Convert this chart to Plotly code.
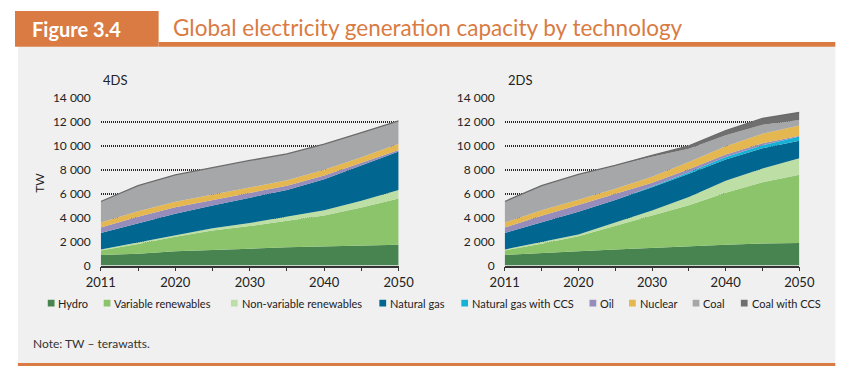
import plotly.graph_objects as go

W, H = 860, 373

years = ["2011", "2015", "2020", "2025", "2030", "2035", "2040", "2045", "2050"]
year_tick_text = ["2011", "", "2020", "", "2030", "", "2040", "", "2050"]
y_ticks = [0, 2000, 4000, 6000, 8000, 10000, 12000, 14000]

technologies = ["Hydro", "Variable renewables", "Non-variable renewables", "Natural gas",
                "Natural gas with CCS", "Oil", "Nuclear", "Coal", "Coal with CCS"]
tech_colors = ["#488450", "#8cc46b", "#bddfa6", "#016690", "#16b2d6",
               "#968dbb", "#e5b751", "#a6a7a9", "#6f6f70"]

# 4DS scenario (TW, stacked components)
hydro_4ds = [885, 990, 1200, 1280, 1400, 1520, 1600, 1650, 1730]
varren_4ds = [375, 800, 1200, 1650, 1900, 2210, 2590, 3200, 3870]
nonvarren_4ds = [80, 130, 130, 190, 250, 350, 430, 560, 720]
gas_4ds = [1380, 1630, 1790, 1890, 2100, 2240, 2590, 2930, 3200]
gasccs_4ds = [0, 0, 0, 0, 0, 0, 0, 0, 0]
oil_4ds = [450, 530, 560, 480, 390, 350, 320, 240, 130]
nuclear_4ds = [420, 450, 450, 430, 520, 450, 480, 480, 530]
coal_4ds = [1760, 2140, 2240, 2270, 2220, 2210, 2130, 2050, 1920]
coalccs_4ds = [0, 0, 0, 0, 0, 0, 0, 0, 0]

# 2DS scenario
hydro_2ds = [885, 1010, 1190, 1340, 1480, 1650, 1745, 1830, 1880]
varren_2ds = [375, 800, 1250, 1990, 2700, 3390, 4335, 5130, 5710]
nonvarren_2ds = [80, 130, 160, 270, 420, 680, 1010, 1140, 1380]
gas_2ds = [1380, 1650, 1900, 1880, 1940, 1960, 1770, 1710, 1450]
gasccs_2ds = [0, 0, 0, 0, 60, 110, 220, 250, 360]
oil_2ds = [450, 570, 550, 480, 320, 250, 200, 150, 70]
nuclear_2ds = [420, 460, 450, 460, 500, 610, 690, 810, 860]
coal_2ds = [1760, 2060, 2110, 1920, 1680, 1110, 910, 750, 460]
coalccs_2ds = [0, 0, 0, 30, 110, 240, 390, 520, 620]

series_4ds = [hydro_4ds, varren_4ds, nonvarren_4ds, gas_4ds, gasccs_4ds,
              oil_4ds, nuclear_4ds, coal_4ds, coalccs_4ds]
series_2ds = [hydro_2ds, varren_2ds, nonvarren_2ds, gas_2ds, gasccs_2ds,
              oil_2ds, nuclear_2ds, coal_2ds, coalccs_2ds]

FONT = "Lato"
ORANGE = "#d97b42"
PANEL = "#f0f0f0"

fig = go.Figure()

for group, series, xa, ya in [("s4", series_4ds, "x", "y"), ("s2", series_2ds, "x2", "y2")]:
    for name, vals, col in zip(technologies, series, tech_colors):
        is_top = name == "Coal with CCS"
        fig.add_trace(go.Scatter(
            x=years, y=vals, name=name, stackgroup=group, mode="lines",
            line=dict(width=1.3 if is_top else 0, color="#6b6b6b" if is_top else col),
            fillcolor=col, xaxis=xa, yaxis=ya, showlegend=False, hoverinfo="skip",
        ))

def px(x):
    return x / W

def py(y):
    return 1 - y / H

y_dom = [py(268.3), py(93.8)]

xaxis_common = dict(
    type="category", range=[0, len(years) - 1], tickmode="array",
    tickvals=years, ticktext=year_tick_text, ticks="outside", ticklen=4,
    tickcolor="#333333", tickwidth=1.2, showline=True, linecolor="#333333",
    linewidth=1.5, showgrid=False, zeroline=False,
    tickfont=dict(family=FONT, size=13, color="#222222"),
)
yaxis_common = dict(
    range=[0, 14000], tickmode="array", tickvals=y_ticks,
    ticktext=[f"{v:,}".replace(",", " ") for v in y_ticks],
    showgrid=True, gridcolor="#262626", griddash="1px,1px", gridwidth=2,
    zeroline=False, showline=False, ticks="", ticklabelstandoff=9,
    tickfont=dict(family=FONT, size=12, color="#222222"), domain=y_dom,
)

fig.update_layout(
    width=W, height=H, autosize=False,
    margin=dict(l=0, r=0, t=0, b=0),
    paper_bgcolor="white", plot_bgcolor="rgba(0,0,0,0)",
    font=dict(family=FONT, color="#222222"),
    xaxis=dict(domain=[px(89), px(398)], anchor="y", **xaxis_common),
    yaxis=dict(anchor="x", **yaxis_common),
    xaxis2=dict(domain=[px(508), px(813.7)], anchor="y2", **xaxis_common),
    yaxis2=dict(anchor="x2", **yaxis_common),
)

shapes = [
    dict(type="rect", xref="paper", yref="paper", x0=px(3), x1=px(851), y0=py(370), y1=py(40.5),
         fillcolor=PANEL, line=dict(width=0), layer="below"),
    dict(type="rect", xref="paper", yref="paper", x0=px(0), x1=px(149), y0=py(40.5), y1=py(3),
         fillcolor=ORANGE, line=dict(width=0), layer="below"),
    dict(type="rect", xref="paper", yref="paper", x0=px(149), x1=px(851), y0=py(40.5), y1=py(35.5),
         fillcolor=ORANGE, line=dict(width=0), layer="below"),
    dict(type="rect", xref="paper", yref="paper", x0=px(3), x1=px(851), y0=py(373), y1=py(370),
         fillcolor=ORANGE, line=dict(width=0), layer="below"),
]

annotations = [
    dict(text="<b>Figure 3.4</b>", x=px(16), y=py(22), xref="paper", yref="paper",
         xanchor="left", yanchor="middle", showarrow=False,
         font=dict(family=FONT, size=20, color="white")),
    dict(text="Global electricity generation capacity by technology", x=px(162), y=py(20),
         xref="paper", yref="paper", xanchor="left", yanchor="middle", showarrow=False,
         font=dict(family=FONT, size=22.5, color=ORANGE)),
    dict(text="4DS", x=px(89), y=py(75), xref="paper", yref="paper", xanchor="left",
         yanchor="middle", showarrow=False, font=dict(family=FONT, size=13, color="#222222")),
    dict(text="2DS", x=px(509), y=py(75), xref="paper", yref="paper", xanchor="left",
         yanchor="middle", showarrow=False, font=dict(family=FONT, size=13, color="#222222")),
    dict(text="TW", x=px(26), y=py(182), xref="paper", yref="paper", xanchor="center",
         yanchor="middle", textangle=-90, showarrow=False,
         font=dict(family=FONT, size=12, color="#222222")),
    dict(text="Note: TW – terawatts.", x=px(17), y=py(350), xref="paper", yref="paper",
         xanchor="left", yanchor="middle", showarrow=False,
         font=dict(family=FONT, size=12, color="#333333")),
]

# custom legend: small squares + labels
legend_x = [34, 92, 224, 378, 463, 596, 637, 703, 753]
for lx, name, col in zip(legend_x, technologies, tech_colors):
    shapes.append(dict(type="rect", xref="paper", yref="paper", x0=px(lx), x1=px(lx + 7),
                       y0=py(311), y1=py(304), fillcolor=col, line=dict(width=0)))
    annotations.append(dict(text=name, x=px(lx + 9), y=py(307.5), xref="paper", yref="paper",
                            xanchor="left", yanchor="middle", showarrow=False,
                            font=dict(family=FONT, size=11, color="#222222")))

fig.update_layout(shapes=shapes, annotations=annotations)

page_fix = ("document.documentElement.style.margin='0';document.documentElement.style.padding='0';"
            "document.body.style.margin='0';document.body.style.padding='0';"
            "document.documentElement.style.overflow='hidden';document.body.style.overflow='hidden';")

fig.write_html("out.html", post_script=page_fix, config={"displayModeBar": False})
